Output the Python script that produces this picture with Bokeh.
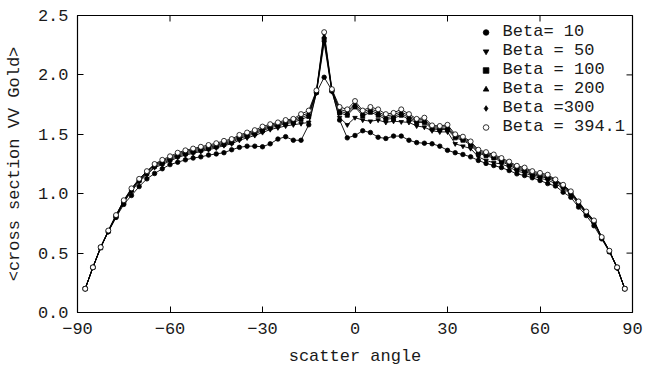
from bokeh.plotting import figure
from bokeh.models import Legend, LegendItem, FixedTicker, Range1d, ColumnDataSource
from bokeh.embed import file_html
from bokeh.resources import INLINE

angles = [-87.5, -85, -82.5, -80, -77.5, -75, -72.5, -70, -67.5, -65, -62.5, -60, -57.5, -55,
          -52.5, -50, -47.5, -45, -42.5, -40, -37.5, -35, -32.5, -30, -27.5, -25, -22.5, -20,
          -17.5, -15, -12.5, -10, -7.5, -5, -2.5, 0, 2.5, 5, 7.5, 10, 12.5, 15, 17.5, 20,
          22.5, 25, 27.5, 30, 32.5, 35, 37.5, 40, 42.5, 45, 47.5, 50, 52.5, 55, 57.5, 60,
          62.5, 65, 67.5, 70, 72.5, 75, 77.5, 80, 82.5, 85, 87.5]

beta_10 = [0.20, 0.38, 0.55, 0.68, 0.80, 0.91, 0.985, 1.06, 1.125, 1.17, 1.21, 1.245, 1.265, 1.285,
           1.30, 1.31, 1.325, 1.335, 1.345, 1.37, 1.39, 1.40, 1.40, 1.395, 1.42, 1.46, 1.48, 1.45,
           1.45, 1.58, 1.85, 1.98, 1.87, 1.62, 1.47, 1.49, 1.53, 1.515, 1.475, 1.465, 1.485, 1.485,
           1.45, 1.43, 1.425, 1.42, 1.40, 1.365, 1.345, 1.33, 1.31, 1.28, 1.255, 1.237, 1.22, 1.195,
           1.167, 1.153, 1.134, 1.111, 1.085, 1.065, 1.013, 0.97, 0.887, 0.816, 0.73, 0.62, 0.51,
           0.375, 0.20]

beta_50 = [0.20, 0.38, 0.545, 0.68, 0.805, 0.925, 1.02, 1.10, 1.16, 1.22, 1.245, 1.275, 1.305, 1.325,
           1.34, 1.355, 1.37, 1.385, 1.405, 1.42, 1.45, 1.47, 1.49, 1.515, 1.54, 1.555, 1.57, 1.58,
           1.59, 1.60, 1.85, 2.27, 1.86, 1.64, 1.58, 1.64, 1.62, 1.61, 1.62, 1.60, 1.61, 1.605,
           1.60, 1.57, 1.56, 1.53, 1.52, 1.52, 1.42, 1.40, 1.38, 1.31, 1.28, 1.26, 1.25, 1.225,
           1.19, 1.175, 1.15, 1.13, 1.115, 1.085, 1.045, 0.995, 0.91, 0.83, 0.755, 0.625, 0.515,
           0.375, 0.20]

beta_100 = [0.20, 0.38, 0.545, 0.685, 0.81, 0.93, 1.03, 1.11, 1.17, 1.23, 1.255, 1.285, 1.315, 1.335,
            1.35, 1.365, 1.38, 1.395, 1.415, 1.43, 1.465, 1.485, 1.505, 1.53, 1.555, 1.57, 1.59, 1.60,
            1.625, 1.65, 1.855, 2.30, 1.865, 1.68, 1.66, 1.73, 1.655, 1.685, 1.66, 1.625, 1.635, 1.66,
            1.625, 1.60, 1.60, 1.545, 1.54, 1.54, 1.47, 1.45, 1.41, 1.34, 1.32, 1.30, 1.27, 1.24,
            1.205, 1.19, 1.16, 1.145, 1.13, 1.10, 1.055, 1.005, 0.92, 0.835, 0.76, 0.63, 0.515,
            0.38, 0.20]

beta_200 = [0.20, 0.38, 0.545, 0.685, 0.815, 0.935, 1.035, 1.115, 1.18, 1.24, 1.265, 1.295, 1.325, 1.345,
            1.36, 1.375, 1.39, 1.405, 1.425, 1.44, 1.475, 1.495, 1.515, 1.54, 1.565, 1.58, 1.60, 1.61,
            1.64, 1.665, 1.86, 2.32, 1.87, 1.695, 1.675, 1.745, 1.67, 1.70, 1.675, 1.64, 1.65, 1.675,
            1.64, 1.61, 1.61, 1.555, 1.55, 1.55, 1.48, 1.46, 1.42, 1.35, 1.33, 1.31, 1.28, 1.25,
            1.215, 1.20, 1.17, 1.155, 1.14, 1.11, 1.065, 1.01, 0.925, 0.84, 0.765, 0.63, 0.52,
            0.38, 0.20]

beta_300 = [0.20, 0.38, 0.55, 0.69, 0.82, 0.94, 1.04, 1.12, 1.185, 1.245, 1.275, 1.305, 1.335, 1.355,
            1.37, 1.385, 1.40, 1.415, 1.435, 1.45, 1.485, 1.505, 1.525, 1.55, 1.575, 1.59, 1.61, 1.62,
            1.655, 1.68, 1.865, 2.34, 1.875, 1.71, 1.69, 1.76, 1.685, 1.715, 1.69, 1.655, 1.665, 1.69,
            1.655, 1.62, 1.625, 1.565, 1.56, 1.565, 1.49, 1.47, 1.43, 1.36, 1.34, 1.32, 1.29, 1.26,
            1.225, 1.21, 1.18, 1.165, 1.15, 1.115, 1.07, 1.015, 0.93, 0.845, 0.77, 0.635, 0.52,
            0.38, 0.20]

beta_394 = [0.20, 0.38, 0.55, 0.69, 0.82, 0.945, 1.045, 1.125, 1.19, 1.25, 1.285, 1.315, 1.345, 1.365,
            1.38, 1.395, 1.41, 1.425, 1.445, 1.46, 1.495, 1.515, 1.535, 1.565, 1.585, 1.60, 1.62, 1.63,
            1.67, 1.70, 1.87, 2.36, 1.88, 1.73, 1.71, 1.78, 1.70, 1.73, 1.71, 1.67, 1.68, 1.71,
            1.67, 1.63, 1.64, 1.575, 1.57, 1.58, 1.50, 1.48, 1.44, 1.37, 1.35, 1.33, 1.30, 1.27,
            1.235, 1.22, 1.19, 1.175, 1.16, 1.12, 1.075, 1.02, 0.935, 0.85, 0.775, 0.635, 0.52,
            0.38, 0.20]

labels = ["Beta= 10", "Beta = 50", "Beta = 100", "Beta = 200", "Beta =300", "Beta = 394.1"]
series = [beta_10, beta_50, beta_100, beta_200, beta_300, beta_394]

x_ticks = [-90, -60, -30, 0, 30, 60, 90]
y_ticks = [0.0, 0.5, 1.0, 1.5, 2.0, 2.5]

FONT = "Liberation Mono"
TXT = "#1a1a1a"
X0, X1, Y0, Y1 = -90, 90, 0.0, 2.5
W, H = 653, 377
BL, BR, BT, BB = 77, 21, 15, 65
TICK = 6

p = figure(width=W, height=H, x_range=Range1d(X0, X1), y_range=Range1d(Y0, Y1),
           output_backend="svg", toolbar_location=None,
           min_border_left=BL, min_border_right=BR, min_border_top=BT, min_border_bottom=BB)
p.xgrid.visible = False
p.ygrid.visible = False
p.outline_line_color = "black"
p.outline_line_width = 1.2
p.background_fill_color = "white"
p.border_fill_color = "white"

for ax, ticks in ((p.xaxis[0], x_ticks), (p.yaxis[0], y_ticks)):
    ax.ticker = FixedTicker(ticks=ticks)
    ax.major_tick_in = TICK
    ax.major_tick_out = 0
    ax.minor_tick_line_color = None
    ax.axis_line_color = "black"
    ax.major_tick_line_color = "black"
    ax.major_label_text_font = FONT
    ax.major_label_text_color = TXT
    ax.major_label_text_font_size = "17px"
    ax.axis_label_text_font = FONT
    ax.axis_label_text_font_style = "normal"
    ax.axis_label_text_color = TXT
    ax.axis_label_text_font_size = "17px"

xa = p.xaxis[0]
xa.axis_label = "scatter angle"
xa.major_label_overrides = {t: str(t).replace("-", "\u2212") for t in x_ticks}
xa.major_label_standoff = 10
xa.axis_label_standoff = 10

ya = p.yaxis[0]
ya.axis_label = "<cross section VV Gold>"
ya.major_label_overrides = {t: "%.1f" % t for t in y_ticks}
ya.major_label_standoff = 9
ya.axis_label_standoff = 11

# inward tick marks on the top and right edges of the frame
frame_w = W - BL - BR
frame_h = H - BT - BB
dx = TICK * (X1 - X0) / frame_w
dy = TICK * (Y1 - Y0) / frame_h
p.segment(x0=x_ticks, y0=[Y1] * len(x_ticks), x1=x_ticks, y1=[Y1 - dy] * len(x_ticks),
          line_color="black", line_width=1)
p.segment(x0=[X1] * len(y_ticks), y0=y_ticks, x1=[X1 - dx] * len(y_ticks), y1=y_ticks,
          line_color="black", line_width=1)

marker_specs = [
    dict(marker="circle", size=4.5, fill_color="black"),
    dict(marker="inverted_triangle", size=4.5, fill_color="black"),
    dict(marker="square", size=4, fill_color="black"),
    dict(marker="triangle", size=4.5, fill_color="black"),
    dict(marker="diamond", size=4.5, fill_color="black"),
    dict(marker="circle", size=5, fill_color="white"),
]

items = []
for lab, ys, ms in zip(labels, series, marker_specs):
    src = ColumnDataSource(dict(x=angles, y=ys))
    p.line("x", "y", source=src, line_color="black", line_width=0.9)
    r = p.scatter("x", "y", source=src, marker=ms["marker"], size=ms["size"],
                  fill_color=ms["fill_color"], line_color="black", line_width=0.8)
    items.append(LegendItem(label=lab, renderers=[r]))

legend = Legend(items=items, location="top_right", border_line_color=None,
                background_fill_alpha=0, padding=0, spacing=0, margin=7,
                glyph_height=18, glyph_width=14, label_standoff=10, label_height=18,
                label_text_font=FONT, label_text_font_size="17px", label_text_color=TXT)
p.add_layout(legend)

open("out.html", "w").write(file_html(p, INLINE))
